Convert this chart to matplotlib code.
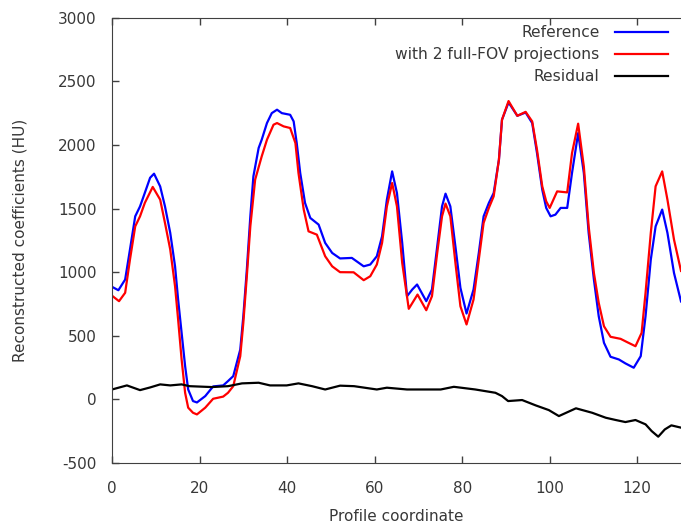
import numpy as np
import matplotlib
matplotlib.use("Agg")
import matplotlib.pyplot as plt

plt.rcParams["axes.unicode_minus"] = False

# Profile values
ref_x = [0, 1.45, 3, 4.1, 5.3, 6.4, 7.5, 8.7, 9.6, 11, 12.1, 13.3, 14.4, 15.1, 15.9, 16.7,
         17.4, 18.5, 19.4, 21.3, 23.1, 25.4, 26.5, 27.7, 29.3, 30, 30.8, 31.6, 32.3, 33.5,
         34.2, 35.4, 36.5, 37.7, 38.8, 40.7, 41.5, 42.2, 43, 44.1, 45.3, 47.2, 48.7, 50.3,
         52.1, 54.8, 57.5, 59, 60.5, 61.7, 62.8, 64, 65.1, 66.3, 67.4, 68.6, 69.7, 71.8,
         73.1, 74.3, 75.4, 76.2, 77.3, 78.5, 79.6, 81, 82.6, 83.8, 84.9, 86.1, 87.2, 88.4,
         89.1, 90.6, 92.6, 94.5, 96, 97.1, 98.3, 99.2, 100.2, 101.3, 102.5, 104, 105.1,
         106.5, 107.8, 108.9, 110.1, 111.2, 112.4, 113.9, 115.8, 117.3, 119.2, 120.8, 121.9,
         123.1, 124.2, 125.7, 126.9, 128.4, 130]
ref_y = [885, 858, 942, 1178, 1439, 1517, 1624, 1742, 1774, 1674, 1517, 1309, 1046, 785, 523, 262,
         78, -13, -24, 26, 102, 110, 144, 183, 392, 654, 1020, 1439, 1753, 1976,
         2041, 2172, 2250, 2277, 2250, 2237, 2185, 2015, 1779, 1544, 1426, 1374, 1230, 1151,
         1108, 1112, 1046, 1060, 1125, 1282, 1570, 1792, 1622, 1230, 811, 864, 903, 772,
         864, 1203, 1517, 1617, 1517, 1190, 877, 675, 864, 1151, 1439, 1544, 1622, 1884,
         2198, 2334, 2229, 2255, 2172, 1936, 1648, 1505, 1439, 1452, 1505, 1505, 1780,
         2093, 1779, 1309, 942, 654, 445, 335, 314, 283, 249, 340, 654,
         1099, 1360, 1492, 1309, 994, 770]

fov_x = [0, 1.6, 3, 4.1, 5.3, 6.4, 7.5, 9.3, 11, 12.1, 13.3, 14.4, 15.1, 15.9, 16.7, 17.4,
         18.5, 19.4, 21.3, 23.1, 25.4, 26.5, 27.7, 29.3, 30, 30.8, 31.6, 32.7, 34.2, 35.4,
         36.9, 37.7, 39.2, 40.7, 41.9, 42.6, 43.8, 44.9, 46.8, 48.7, 50.3, 52.1, 55.2, 57.5,
         59, 60.5, 61.7, 62.8, 64, 65.1, 66.3, 67.8, 69.8, 71.8, 73.1, 74.3, 75.4, 76.2,
         77.3, 78.5, 79.6, 81, 82.6, 83.8, 84.9, 86.1, 87.2, 88.4, 89.1, 90.6, 92.6, 94.5,
         96, 97.1, 98.3, 99.2, 100, 101.7, 104, 105.1, 106.5, 107.8, 108.9, 110.1, 111.2,
         112.4, 113.9, 116.2, 117.7, 119.6, 121, 121.9, 123.1, 124.2, 125.7, 126.9, 128.4, 130]
fov_y = [815, 772, 838, 1099, 1360, 1439, 1545, 1670, 1570, 1387, 1178, 889, 628, 314, 52, -65,
         -105, -118, -65, 5, 22, 52, 104, 340, 602, 968, 1360, 1727, 1910, 2041,
         2159, 2172, 2146, 2133, 2015, 1779, 1492, 1321, 1295, 1125, 1046, 1000, 999, 937,
         968, 1060, 1230, 1517, 1701, 1517, 1073, 712, 824, 701, 811, 1151, 1439, 1539,
         1439, 1060, 732, 589, 785, 1099, 1387, 1505, 1596, 1884, 2198, 2345, 2229, 2260,
         2185, 1962, 1675, 1557, 1505, 1635, 1627, 1936, 2167, 1831, 1360, 994, 759,
         575, 492, 476, 450, 418, 523, 838, 1309, 1675, 1792, 1570, 1256, 1010]

res_x = [0, 3.4, 6.4, 8.7, 11, 13.3, 15.9, 17.7, 22.8, 26.5, 29.7, 33.5, 36.1, 39.9, 42.6,
         45.7, 48.7, 52.1, 55.3, 60.5, 62.8, 67.4, 70.5, 75.1, 78.1, 83, 87.6, 89.1, 90.5,
         93.7, 96.8, 99.8, 102.1, 106, 109.7, 112.8, 115.1, 117.3, 119.6, 121.9, 123.3,
         124.8, 126.3, 127.8, 130]
res_y = [78, 110, 73, 94, 118, 110, 118, 104, 97, 104, 126, 131, 110, 110, 126,
         104, 78, 108, 104, 78, 92, 78, 78, 78, 99, 78, 52, 26, -13,
         -5, -47, -84, -131, -70, -105, -144, -162, -178, -162, -196, -249,
         -293, -236, -204, -222]

labels = ["Reference", "with 2 full-FOV projections", "Residual"]
x_ticks = [0, 20, 40, 60, 80, 100, 120]
y_ticks = [-500, 0, 500, 1000, 1500, 2000, 2500, 3000]

fig = plt.figure(figsize=(6.81, 5.27), dpi=100)
ax = fig.add_axes([0.1645, 0.1214, 0.8355, 0.845])

ax.plot(ref_x, ref_y, color="#0000ff", lw=1.6, label=labels[0])
ax.plot(fov_x, fov_y, color="#ff0000", lw=1.6, label=labels[1])
ax.plot(res_x, res_y, color="#000000", lw=1.6, label=labels[2])

ax.set_xlim(0, 130)
ax.set_ylim(-500, 3000)
ax.set_xticks(x_ticks)
ax.set_yticks(y_ticks)
ax.tick_params(direction="in", length=5, width=1, color="#404040",
               labelcolor="#383838", labelsize=11, top=True)
ax.tick_params(axis="x", pad=13)
ax.tick_params(axis="y", pad=11)
for side in ["left", "bottom", "top"]:
    ax.spines[side].set_color("#404040")
ax.spines["right"].set_visible(False)

ax.set_xlabel("Profile coordinate", fontsize=11, color="#383838", labelpad=9)
ax.set_ylabel("Reconstructed coefficients (HU)", fontsize=11, color="#383838", labelpad=22)

ax.legend(loc="upper right", bbox_to_anchor=(1.002, 1.015), frameon=False,
          markerfirst=False, fontsize=11.2, handlelength=3.4, handletextpad=1.0,
          labelspacing=0.45, labelcolor="#383838")

fig.savefig("out.png", dpi=100)
